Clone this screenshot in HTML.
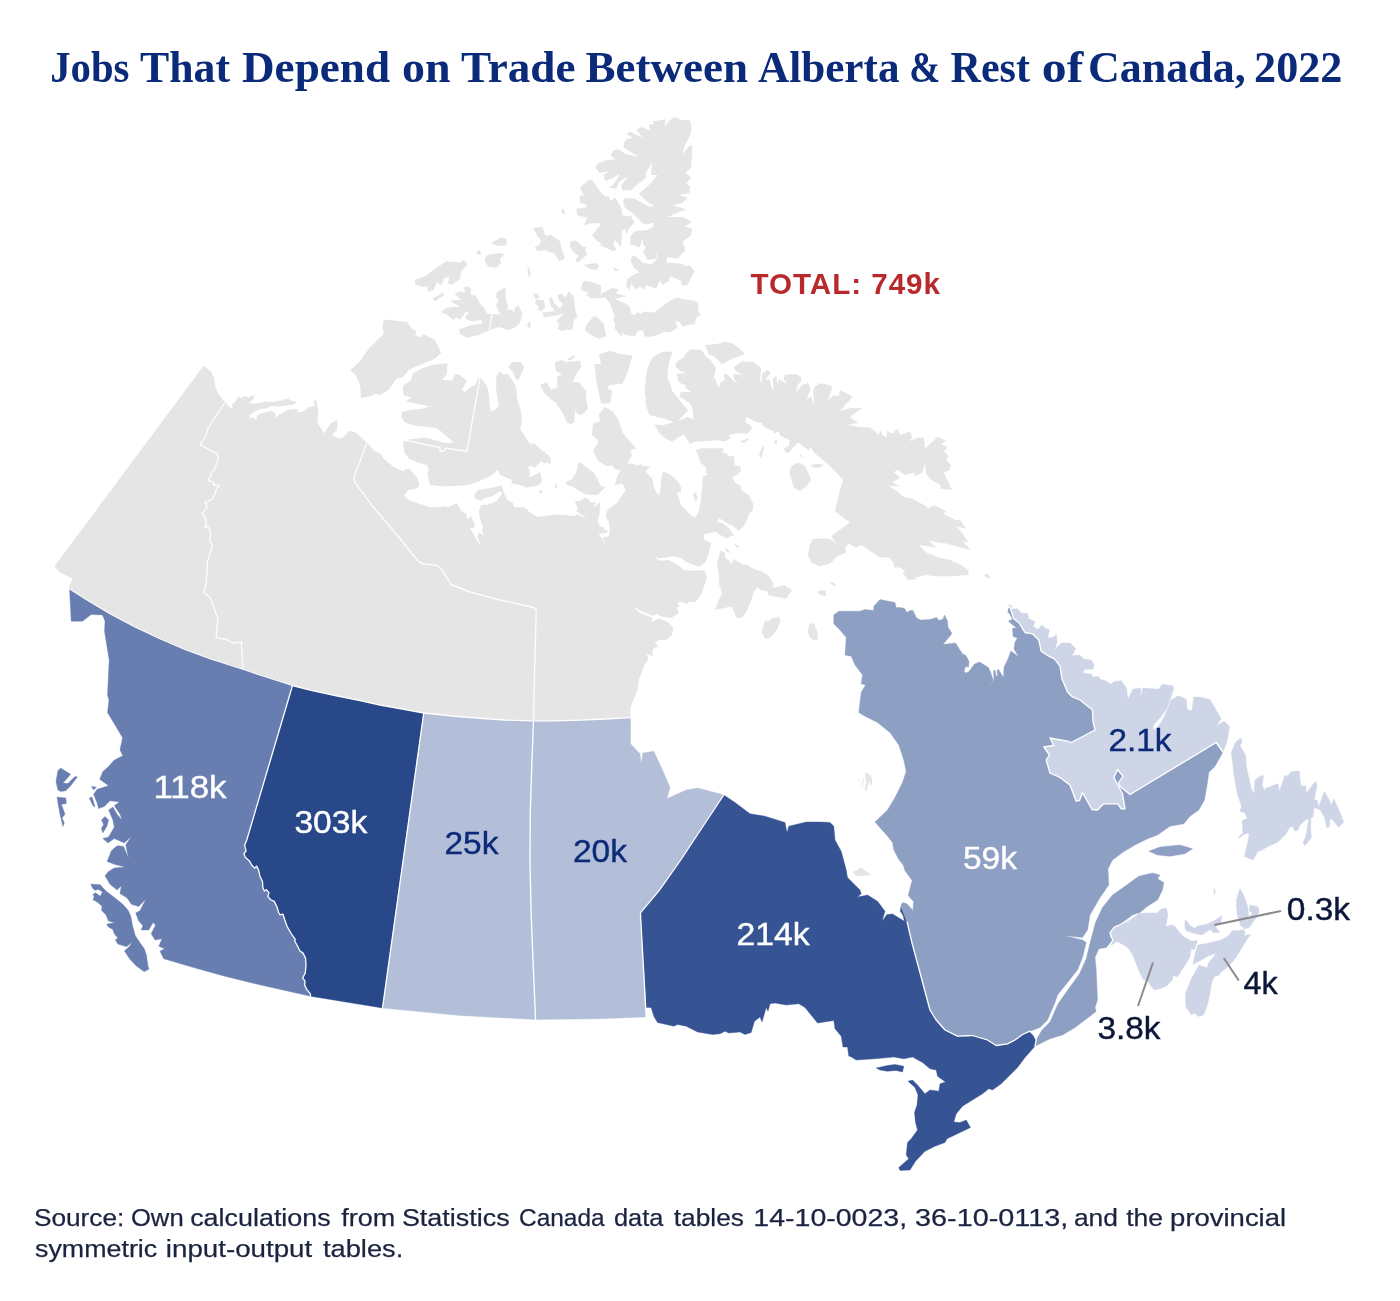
<!DOCTYPE html>
<html lang="en"><head><meta charset="utf-8"><title>Jobs That Depend on Trade Between Alberta &amp; Rest of Canada, 2022</title>
<style>
html,body{margin:0;padding:0;background:#fff;}
body{width:1400px;height:1301px;position:relative;overflow:hidden;font-family:"Liberation Sans",sans-serif;}
svg{position:absolute;left:0;top:0;}
.g polygon{fill:#e5e5e5;stroke:none;}
.p polygon{stroke-width:.4;stroke-linejoin:round;}
.b polyline{fill:none;stroke:#fff;stroke-width:1.3;stroke-linejoin:round;stroke-linecap:round;}
.l polyline{fill:none;stroke:#fff;stroke-width:1.4;stroke-opacity:.9;stroke-linejoin:round;}
.ld line{stroke:#8a8a8a;stroke-width:2;}
text{font-family:"Liberation Sans",sans-serif;}
.title text{font-family:"Liberation Serif",serif;font-weight:bold;fill:#0b2b7a;}
.lab text{font-size:31.2px;stroke-width:.4px;}
.src text{font-size:24.4px;fill:#1b2340;stroke:#1b2340;stroke-width:.25px;}
</style></head><body>
<svg width="1400" height="1301" viewBox="0 0 1400 1301">
<g class="g">
<polygon points="54.5,566.2 203.6,365.7 211.4,372.1 214.3,378.6 215,385.7 218.6,394.3 225,402.1 229.3,407.1 232.9,409.3 232.1,404.3 235,402.1 237.9,397.1 241.4,398.3 244.3,396 248.6,397.4 253.6,395 254,398.6 248.6,403.6 260,402.9 265,401.4 267.1,402.1 270,401.4 272.9,402.1 280,400.7 287.9,398.6 291.4,400.7 296.4,401.4 294.3,404.3 285.7,405.7 278.6,406.4 271.4,406 265.7,408.6 260,409.3 254.3,412.1 249.3,415 249.7,419.3 251.4,417.1 256.4,419.7 257.1,415.7 260,413.6 265.7,412.6 271.4,410.7 275.7,413.6 274.3,417.9 280,414.3 287.1,410 292.9,409.3 298.6,409.3 296.4,412.1 301.4,412.1 305.7,410 308.6,407.1 315,405.7 313.6,401.4 316,398.9 318.3,410 317.4,422.9 324.6,433.6 327.1,428.6 330.7,423.6 335.7,420.7 337.4,418.9 336.9,428.6 337.1,430 331.7,435 338.6,438.6 343.6,437.1 349.3,430.7 355,432.1 366.4,442.1 375,451.4 380,453.6 384.3,459.3 391.4,465 395.7,467.9 403.8,471.2 405.5,468.8 410,469.5 417,477.5 419.5,485 417.5,488 408.8,490 403.8,495.5 408.8,500 418.8,503.8 431.2,507.5 445,506.2 447.5,507.5 457,503 461.2,511.2 466.2,513.8 467.5,519.5 471.2,516.2 475,525 473.8,528 470,528 481.2,547.5 477.5,536.2 478.8,532.5 483.8,535 482,530 483,528 480.5,520 478.8,511.2 481.2,505 488.8,504.5 496.2,501.2 503,493 499.5,491.2 492.5,496.2 486.2,497.5 481.2,500.5 475.8,499.5 474.2,495 478,490 486.2,488.8 502,485.5 503.8,492.5 507,500 512.5,502.5 514.5,507 525,507.5 530,512.5 537.5,517 555,514.5 565,515 575,516.2 576.2,513.8 587.5,519.5 575,510 578,510 575,501.2 582.5,500 583.8,497.5 587.5,498 590.5,502.5 596.2,502.5 592.5,508 600,502.5 599.5,515 597.5,520.5 600,526.2 603.8,527.5 604.5,530 607.5,530.5 607.5,532.5 598.8,533.8 605.5,544.5 602.5,537.5 608.8,536.2 610,528.8 608.8,522 605.5,516.2 607.5,510 611.2,507 617.5,502.5 621.2,496.2 625.5,490.5 622.5,483.8 615,485 617,476.2 621.2,470 616.2,469.5 611.2,465 607.5,466.2 602.5,463.8 597.5,460 593,450 597.5,443.8 598,440 592,435 593,423.8 600,421.2 598.8,414.5 605,407 612.5,411.2 618.8,420 620,424.3 622.9,432.9 628.6,440 633.6,445.7 636.4,448.6 632.9,449.3 630.3,451.4 632.1,455.7 627.1,463.6 632.1,463.6 637.9,465.7 641.1,464.3 642.1,465.7 650,466.4 645.7,471.4 652.6,479.3 653.6,487.1 657.4,494.6 660,492.9 661.4,478.6 662.9,471.4 670,474.3 677.9,481.4 680.7,486.4 681.4,492.1 677.1,492.9 681.4,505.7 687.1,511.4 691.4,515.7 695.4,517.4 698.6,512.1 701.1,498.6 702.6,480 702.6,476.4 708.3,474.3 705.7,472.9 706.9,469.3 703.6,465 700.3,462.9 698.6,457.1 695.7,449.7 703.6,447.9 712.9,448.6 721.7,447.9 724,449.3 722.1,452.6 726.4,453.6 728.6,456 734.3,456.4 734.6,465 740.7,466.4 740.7,471.4 737.9,474.3 733.6,476 732.6,478.6 735.7,482.9 738.6,485 740,484.3 741.4,490 749.3,495.7 752.9,502.9 752.9,510 749.3,513.6 746.4,522.1 742.1,527.9 738.6,531.1 731.4,524.6 728.6,524.3 719.3,518.3 717.1,522.1 722.1,522.9 728.6,527.9 734.3,535.4 729.3,536.4 727.9,538.6 721.4,535.7 715.4,531.7 703.6,534.6 704.3,540 711.4,542.9 708.6,552.9 705.7,562.1 698.9,566.9 690,563.6 685.7,561.4 681.4,558.3 671.4,555.7 670.7,557.1 660,558.3 655,557.1 659.3,560.7 668.6,560 675.7,563.6 684.3,570 695.7,570.7 704.3,570 706.9,576.4 704.3,585.7 701.4,594.3 695.7,602.1 688.6,601.7 687.1,604 680.7,601.4 677.1,603.1 680,606 676.9,607.1 678.6,613.6 674.3,616 670.7,617.9 661.4,616.4 656.9,614 652.9,615.7 640,610.7 635,607.1 635.7,609.3 640,612.9 652.9,617.9 650.7,622.1 659.3,618.6 667.9,622.1 673.6,628.6 671.4,635.7 665.7,640 658.6,640 655,642.9 658.6,646.4 653.6,647.9 652.1,652.9 653.6,656.4 646.4,653.6 648.6,658.6 644.3,665.7 642.5,670 638.8,680 637.5,690 632.5,702.5 630.5,707.5 630.5,718.8 630.6,717.6 605,719 580,720.2 555,720.9 533.5,720.9 505,720 480,718.25 455,716.25 423.75,713 405,709.5 380,705 360,700.5 335,695.5 310,690 292.5,685.5 260,675 243.75,669.5 210,658.75 185,649.5 160,638.75 135,627 110,613.75 85,598.75 69.5,588.75 68.8,587.5 72.5,578.8 60,572.5"/>
<polygon points="383.8,319.5 407.5,322 411.2,328 416.2,331.2 415.5,335 419.5,337.5 423.8,334.5 435,340 441.2,352.5 435,358.8 422.5,363.8 408.8,370 402.5,377.5 396.2,378.8 388.8,390 380,395 375,393.8 371.2,396.2 361.2,398 360,385 355,373.8 350,370.5 360,361.2 365,353.8 370,347.5 376.2,341.2 383.8,333.8 382.5,326.2"/>
<polygon points="403.8,385 411.2,380 412.5,373.8 421.2,368.8 432.5,365 447.5,363 447,373.8 442.5,380 452,380.5 455,373.8 460,375 467,381.2 462,390 465,392 470,387.5 475,385 478.8,377 482.5,380 487,386.2 488.8,393.8 490.5,411.2 495,410 498.8,406.2 496.2,390 496.2,377.5 499.5,371.2 503.8,374.5 507.5,373.8 512.5,380 516.2,387.5 517.5,400 521.2,412.5 522,422.5 520,428.8 525,436.2 528.8,442.5 532.5,444.5 533.8,443 542.5,451.2 545,451.2 545.5,453.8 548.8,455 551.2,460 550,465 547.5,462 545,463.8 541.2,461.2 537.5,465 535,467.5 530.5,465.5 528,467.5 530,471.2 529.5,477.5 540,472 542,480 540.5,483.8 535,486.2 526.2,487.5 520,485 516.2,484.5 511.2,483 512,480 506.2,477.5 500,475 498,469.5 493.8,473.8 487.5,477.5 476.2,482.5 467.5,485 450,486.2 442.5,486.2 430,485 427.5,473.8 428.8,470 427,465 417.5,462.5 408.8,458.8 404.5,452.5 403.8,448.8 403,446.2 403.8,440 425,437.5 445,443 453.8,442.5 437,428 415,425.5 405.5,423 401.2,417.5 402,412 410,410 422.5,408.8 429.5,406.2 410,402.5 406.2,401.2 411.2,397 403.8,395.5 402.5,389.5"/>
<polygon points="508,367 512.5,362 521.2,362 524.2,367.5 518.8,379.5 516.2,379.5 512.5,371.2"/>
<polygon points="540,385 546.2,382 551.2,389.5 557.5,387.5 557,376.2 562,374.5 556.2,371.2 554.5,362.5 562,360 565.5,362 580,360.5 581.2,367.5 577.5,372 572.5,382 579.5,382.5 583.8,388.8 586.2,390 586.2,400 588,408.8 582.5,414.5 578,414.5 575,410 574.2,422.5 571.2,424.2 567,422.5 562.5,412.5 556.2,403 550,398.8 543.8,392.5"/>
<polygon points="567,359.5 573.8,355 575,357 570,360.5"/>
<polygon points="594.5,363.8 601.2,364.5 598.8,354.5 610,350.8 618.8,353.8 632.5,355.5 627.5,372.5 622.5,383.8 610,385 607,387.5 612.5,391.2 610,403.2 601.2,403.8 597.5,387.5 595.8,377.5"/>
<polygon points="565.5,482.5 572.5,478.8 576.2,472.5 578,463.8 581.2,462 583.8,465.5 593.8,472.5 601.2,486.2 605.5,487 597.5,495 586.2,494.5 577.5,490 572.5,486.2 567.5,485.5"/>
<polygon points="538.8,491.2 541.2,489.5 542.5,492 540,493.8"/>
<polygon points="555,485 557,484.5 557.5,488.8 555.5,488"/>
<polygon points="415.5,279.5 425,276.2 435,268.8 446.2,261.2 460,262.5 463.8,260 467.5,264.5 461.2,271.2 460,278.8 452.5,284.5 448,283.8 449.5,276.2 443.8,278.8 441.2,285.5 437,282 433.8,290 428,292 427,286.2 422.5,287 415,284.5"/>
<polygon points="432.5,298.8 443,292.5 443.8,295.5 435,301.2"/>
<polygon points="441.2,311.2 446.2,308 460,306.2 451.2,302 452.5,300 461.2,300 454.5,293.8 460,291.2 465,292.5 463.8,287.5 467.5,286.2 471.2,288.8 470.5,294.5 476.2,296.2 480,303.8 483.8,307.5 487,313.8 500,314.5 496.2,305 498.8,300 496.2,297.5 497,292 505.5,287 506.2,300 508,306.2 507,309.5 512.5,310 513.8,313.8 515,307.5 518.8,305.5 522.5,313.8 519.5,323.8 515,327.5 507.5,330 498.8,327 490,330 480,334.5 467.5,338 460,333.8 458.8,329.5 471.2,325 482.5,323.8 481.2,320 472.5,321.2 467.5,320 465,317.5 468.8,312.5 466.2,311.2 460,320 456.2,317 453.8,320 450,317.5 447.5,314.5 442,313"/>
<polygon points="485,257.5 488.8,254.5 500,253 504.5,254.5 500,258.8 501.2,263 496.2,267.5 488.8,267 485,262.5"/>
<polygon points="491.2,243 501.2,237.5 506.2,238.8 507,245 497.5,246.2"/>
<polygon points="476.2,251.2 480,250 481.2,254.5 477.5,255"/>
<polygon points="533,228 542.5,227 545,235 547.5,236.2 550,234.5 555,237.5 560,241.2 562,250 565,258.8 558.8,261.2 555,253.8 543.8,250 537.5,251.2 534.5,247.5 540,244.5 541.2,240 537.5,236.2 535.5,232.5"/>
<polygon points="570.5,241.2 576.2,240.5 582.5,246.2 586.2,247.5 585.5,251.2 587.5,254.5 578,262.5 575,260 578.8,256.2 573.8,252 570,247.5"/>
<polygon points="527.5,265 530.5,272.5 530,277.5 528,275"/>
<polygon points="583.8,265 596.2,263 599.2,266.2 596.2,270 590,268.8"/>
<polygon points="613,267 619.5,270 615,271.2"/>
<polygon points="548.8,298.8 552,297.5 553.8,302.5 560,308.8 563,303.8 558.8,300 557.5,295 561.2,293.8 565.5,297.5 568.8,291.2 573.8,296.2 575,307.5 576.2,313.8 577.5,317.5 573.8,320 572.5,329.5 565.5,330 562.5,331.2 557.5,328.8 559.5,323.8 556.2,321.2 562.5,315 565,313.8 543.8,317.5 542.5,312.5 555,311.2 551.2,306.2 550,302"/>
<polygon points="533,293 537.5,293.8 539.5,297.5 535,299.5 543.8,300 545.5,307.5 541.2,311.2 537.5,309.5 538.8,306.2 534.5,303.8 536.2,301.2"/>
<polygon points="528,322.5 530.5,321.2 530.5,328.8 527,326.2"/>
<polygon points="586.2,325 593.8,316.2 597.5,317.5 603.8,323.8 606.2,336.2 598.8,338.8 588.8,333.8 585,330"/>
<polygon points="601.2,293.8 612.5,288 618.8,289.5 615.5,293 626.2,296.2 615,298.8 626.2,303.8 630,307.5 631.2,313.8 635,315 637,312 640,313.8 646.2,311.2 648.8,312.5 655,312 663.8,305 671.2,300 677.5,297.5 683.8,299.5 691.2,300 698,302.5 698.8,312.5 701.2,314.5 696.2,317.5 695,323.8 682.5,326.2 679.5,322 675,321.2 677.5,327.5 670,332.5 663.8,332 657.5,335 650,337 644.5,336.2 643,330 637.5,331.2 635,336.2 625,335 623,332.5 621.2,336.2 615,328.8 615,323.8 613,320 614.5,315.5 610,303.8 606.2,298.8"/>
<polygon points="580,188 587.5,180.5 592,180 600,191.2 605,196.2 608.8,196.2 610.5,201.2 615,197.5 621.2,207.5 622.5,215 626.2,216.2 630.5,215.5 634.5,222 628,230 627,235 624.5,228.8 622,231.2 621.2,247.5 615,240 613,243.8 617,250 612,251.2 610,249.5 601.2,246.2 600,242.5 596.2,240.5 592,235 597.5,228.8 601.2,223.8 594.5,223 583.8,225 587.5,217.5 577.5,215.5 576.2,208.8 585.5,207.5 587,205 579.5,202.5 580,195 583.8,196.2"/>
<polygon points="561.2,210 563.8,208.8 565.5,214.5 562.5,213.8"/>
<polygon points="648.8,125 653.8,123.8 652.5,121.2 665.5,119.5 664.5,126.2 669.5,120.5 675,117 682,120 689.5,120 691.2,123.8 691.2,132.5 688.8,138 684.5,146.2 682.5,154.5 688.8,146.2 692.5,145 691.2,167.5 685.5,172.5 691.2,177.5 686.2,183.8 690,186.2 689.5,193 678.8,195 687.5,197.5 682.5,203 672.5,205 686.2,209.5 677.5,212.5 668,217 682.5,217 692,222 685,226.2 692,228.8 691.2,235 682.5,242 685.5,250 677.5,258.8 667.5,257 666.2,262.5 682.5,263.8 685,266.2 690,265.5 694.5,271.2 690,280 687.5,285 682.5,285.5 680.5,280.5 670,276.2 668.8,281.2 662.5,285 660,280.5 656.2,288.8 646.2,285 643.8,290 640,286.2 636.2,290 631.2,283 630,290 626.2,286.2 627.5,278.8 635,273.8 639.5,272.5 633.8,267.5 630.5,261.2 632,256.2 635.5,256.2 642.5,262.5 651.2,264.5 656.2,260 658,247.5 655.5,258.8 647.5,260 643,252 646.2,247.5 643,244.5 642.5,237.5 640,247.5 630,244.5 630.5,236.2 635,231.2 647,230 652.5,227.5 653.8,222.5 646.2,224.5 642,222.5 632.5,213 625,208 623,201.2 625,198 635,198.8 641.2,202.5 648.8,206.2 655.5,206.2 648.8,203 643.8,198.8 638.8,193.8 646.2,187.5 651.2,182.5 657.5,175 651.2,175 652,162.5 646.2,172.5 646.2,177.5 635,186.2 632,190 622.5,190.5 621.2,185 628.8,176.2 620,181.2 616.2,188.8 608.8,187.5 613.8,184.5 620,173.8 611.2,178.8 605,181.2 603.8,174.5 610,171.2 600,173 595,167.5 598.8,163 607.5,160 615.5,159.5 610.5,155.5 613.8,150 618.8,149.5 625,153.8 638.8,157 623.8,147.5 623.8,142.5 627.5,138.8 632.5,138 626.2,133.8 630,132 642.5,137.5 636.2,129.5 642.5,127 650,130.5"/>
<polygon points="662.9,351.7 672.6,351.7 669.3,361.4 667.4,371.4 667.9,379.3 670.7,385 672.1,390.7 677.1,397.1 682.9,404.3 688.3,410.3 682.9,415.7 677.9,421.4 687.1,416.9 693.6,419.3 692.1,406.4 689.3,402.9 685,400 679.3,396.4 680.7,392.1 691.4,392.1 686,388.3 685.4,385 682.1,384 678.3,381.7 676.4,373.6 686,373.6 678.6,370 675.7,366.9 675.4,364.3 677.9,360.7 682.1,358.3 685,357.1 684,355.7 690,349.3 701.7,350 705.7,356.4 710,359.3 716,368.3 712.9,380.7 715.4,377.1 716,382.1 717.4,383.6 718.6,388.6 720.7,382.1 725,380 723.6,374.3 726.4,374 738.3,385 734.3,379.3 733.1,374.6 738.6,374 743.6,375 736.4,371.4 733.6,367.4 742.1,361.1 748.6,362.1 752.9,361.4 761.1,368.6 760,381.4 761.4,382.1 762.1,373.6 767.9,369.7 770.7,372.9 765.4,379.7 769.3,379.3 772.6,390.7 773.6,390.7 772.9,378.6 776.4,375.7 777.1,384.3 778.9,379.3 786.9,384 783.6,378.6 784.3,375.4 790.7,374 797.1,374.6 801.4,377.4 801.1,382.1 798.6,383.6 795.7,392.9 802.1,385 806.4,384 807.4,382.1 810.7,389.3 806.4,399.7 810.7,396 814.3,405 813.1,390 815.7,385.7 820,383.6 823.8,383.8 832.5,386.2 829.5,396.2 827,401.2 833.8,395 838.8,396.2 840,390 847.5,393.8 852.5,396.2 850,400 846.2,403.8 840,411.2 850,408 862.5,408 852.5,415 850,417.5 858,422.5 847.5,425 860,427 870,427.5 875,431.2 878.8,435 880.5,430 882.5,435 886.2,437.5 887.5,431.2 892.5,433.8 897.5,428.8 900,435 910,431.2 912.5,437.5 908.8,441.2 917.5,438 923.8,437.5 925,448.8 928.8,445 937.5,437 946.2,440.5 941.2,443.8 947.5,447.5 943.8,451.2 948.8,456.2 946.2,460 950.8,465 949.5,470 943.8,472.5 947.5,480 952,490 941.2,488.8 940,484.5 931.2,480 926.2,473.8 925,463.8 922.5,472.5 915,476.2 913.8,472.5 905,475 897.5,469.5 893.8,472.5 900,477.5 892.5,482.5 900,486.2 888.8,486.2 897.5,491.2 902.5,496.2 912.5,498.8 926.2,506.2 928,508.8 933.8,505 941.2,508.8 946.2,511.2 943.8,513.8 955,520 960,520 966.2,528.8 956.2,526.2 962.5,533.8 968.8,542.5 962.5,541.2 971.2,550 960,547.5 947.5,543.8 937.5,542.5 928.8,540.5 936.2,547.5 918.8,545 926.2,552.5 937.5,557 950,560 961.2,565 968,570 968.8,575 950,576.2 937.5,576.2 925,575 916.2,577.5 915,580 907.5,577.5 902.5,573.8 905,571.2 900,567.5 893.8,567.5 893.8,562.5 888.8,557.5 880,557.5 872.5,552.5 865,547.5 861.2,545 856.2,547.5 848.8,543.8 845,547.5 846.2,552.5 837.5,556.2 830,563.8 820,566.2 811.2,562.5 808,555 810,545 812.5,539.2 822.5,538.2 830,538.8 837,545 831.2,536.2 837.5,531.2 850,522.5 841.2,516.2 835,511.2 837,502.5 840,490 843,480 835,471.2 827.5,463.8 820,457.5 815.7,454.3 810,447.1 808.6,450.7 799.3,442.9 797.1,442.9 793.6,447.1 788.6,453.1 785.7,452.6 784,447.9 788.6,446 789.7,440 780,435.7 778.9,431.1 774.3,433.6 772.9,430.7 768.6,429.3 764.3,427.1 761.4,422.9 754.3,421.4 746.4,416.4 745.4,422.1 750,425 752.1,427.9 747.1,434 738.6,433.1 727.9,435 731.1,437.4 725,441.4 717.1,440.3 694.3,442.1 690,444 683.6,434.3 680,436.9 677.1,437.4 676.4,439.3 671.4,441.4 664.3,437.9 658.6,432.1 654.3,424.6 663.6,425 674.3,422.1 661.4,417.9 649.7,415 645.7,405 645.4,400 646.4,397.1 645,395.7 645,386.4 646,375.7 647.9,367.4 652.1,357.9 657.4,354.3"/>
<polygon points="705,345 717.1,344 725,341.7 732.9,343.6 738.6,347.9 745,354 734.3,357.9 727.1,361.4 722.1,364.6 714.3,356.4 708.9,354.6"/>
<polygon points="791.2,466.2 797.5,462.5 805,465.5 808.8,473.8 811.2,480 806.2,486.2 800,491.2 793.8,487.5 789.5,472.5"/>
<polygon points="810.5,465 817.5,463.8 823.8,465 820,467.5 812.5,467.5"/>
<polygon points="759.3,454.3 762.9,445.7 764.3,446.4 762.1,455.7 760.3,457.9"/>
<polygon points="740,441.7 747.9,438.3 749.3,439.3 744.3,442.9"/>
<polygon points="774,440.7 777.1,440.3 776.9,444.3 774.6,443.1"/>
<polygon points="799.3,453.6 803.6,456.4 801.4,457.1"/>
<polygon points="693.1,493.6 695,492.1 697.9,497.9 695.7,502.1 693.6,497.1"/>
<polygon points="715,609.7 717.9,602.1 722.1,593.6 719.3,585 718.6,572.9 717.1,564.3 720.3,550.7 724.3,552.1 725.4,557.9 729.3,560.7 730.7,564.3 733.6,559.3 742.1,564.3 746.4,564.6 752.9,568.6 761.4,571.4 767.9,575 773.6,582.9 772.6,587.9 784.3,585 792.1,590 786.4,598.6 777.1,596.9 769.3,595.4 766.4,591.1 760,589.7 757.9,587.4 754.3,590.7 750.7,601.4 746.4,611.4 742.9,617.1 737.1,618.6 731.4,606.4 724.3,607.9"/>
<polygon points="725,546.9 729.3,550.7 728.9,553.6 725.7,550"/>
<polygon points="733.6,542.9 739.3,546.4 737.9,548.3 735,546"/>
<polygon points="761.7,632.1 764.6,621.4 769.3,620.7 772.1,618.3 778.6,616.4 780.7,620.7 777.9,627.9 774.3,633.6 770.7,637.1 765.7,639.3"/>
<polygon points="807.9,631.4 809.3,624.3 814,622.9 816,628.6 817.9,634.3 817.4,640.7 813.6,640.3 809.3,636.4"/>
<polygon points="817.1,592.1 821.4,590 825.7,590.7 826.4,596.4 820.7,595"/>
<polygon points="829.3,583.1 832.1,582.1 835.7,584 835,586.4"/>
<polygon points="905,577.5 911.2,576.2 915,579.5 908.8,580"/>
<polygon points="983.8,575 987.5,573.8 991.2,578.8 987.5,578"/>
<polygon points="852.5,872.5 861.2,867.5 871.2,875 857.5,876.2"/>
<polygon points="865.2,771.9 870.2,775.1 872.1,778.5 871.9,785.4 870.2,784.1 869.3,780.7 867.6,787.6 865.4,791.5 865,789.3 866.3,781.6 865.2,778.1"/>
<polygon points="580.7,287.9 582.9,282.1 585,280.7 595,283.1 601.1,285.4 600.7,295 605.7,291.4 612.9,288.3 618.6,290 611.4,293.6 602.9,297.9 597.1,298.3 590.7,298.6 586.4,295 588.6,292.9 581.4,290"/>
<polygon points="863.5,777.5 864.1,778.5 862.2,788 861.4,787.5"/>
<polygon points="858,780.5 860.5,778 859,781.5"/>
</g>
<g class="l">
<polyline points="225,402.6 215.7,416.4 207.9,428.6 207.1,432.9 204.3,438.6 200,444.6 217.9,454.3 218.3,458.6 215,468.6 210.7,473.6 211.4,475 207.9,480 214.3,482.6 213.6,485.4 216.9,484.3 219.7,486 216.9,487.9 214.3,495.7 212.1,499.3 205,502.6 206.4,504.3 206.9,508.6 201.7,513.6 205,517.1 206.4,525.7 204.3,526.9 208.6,527.1 210.7,533.6 209.7,540 212.6,545.7 207.5,561.2 206.2,583.8 203.8,592.5 210,597.5 218,618.8 216.2,637.5 226.2,639.5 233.8,643 241.2,642 243,668.8"/>
<polyline points="367,443 353.8,477.5 355,482.5 372.5,506.2 395,532.5 417.5,560.5 422.5,563.8 437.5,565.5 441.2,568.8 451.2,584.5 470,592 500,600 533.8,607.5 536.2,610 534.5,675 533.5,720.9"/>
<polyline points="480,377.5 467,451.2 446.2,448.2 443,451.2 440,451.2 440,447.5 403.8,440"/>
<polyline points="492,314.5 489.5,329.5"/>
</g>
<g class="p">
<polygon fill="#697eb0" stroke="#697eb0" points="69.5,588.75 71.2,621.2 82.5,621.2 91.2,614.5 102.5,615 105,621.2 104.5,631.2 109.2,660 107.5,695 109,700 107.5,712.5 122.5,737.5 122.1,740 120,750 122.9,755.7 114.3,760 108.6,766.4 102.9,771.4 99.7,779.3 108.6,785.7 97.1,789.3 93.6,794.3 97.1,802.9 98.6,808.6 104.3,806.4 110,800.7 119.3,802.1 114.3,805.7 120,814.3 122.1,820 117.1,814.3 112.9,807.1 108.6,810 112.9,820 114.3,827.1 108.6,837.1 102.9,838.6 107.9,842.9 114.3,838.6 124.3,842.9 131.4,836.4 125.7,845 128.6,858.6 123.6,846.4 117.1,845.7 111.4,850.7 107.1,861.4 114.3,864.3 125,867.1 114.3,867.9 108.6,871.4 105,875.7 110,884.3 117.1,890 121.4,885.7 120,893.6 127.1,897.9 131.4,904.3 138.6,906.4 145.7,899.3 140,910.7 135.7,912.9 138.6,920.7 142.9,925.7 141.2,930 148.8,930 153,922.5 155.5,925 151.2,933.8 155,940 162,938.8 158.8,946.2 164.5,948.8 160,951.2 163.8,958.8 197,968.6 225.7,976.4 254.3,983.6 282.9,990 310.6,996.2 310.2,993.6 306.9,989.7 304.7,985.1 305,981.2 302.6,977.9 305.2,973.3 306,965.5 305.6,958.3 303,953.1 299.7,950.8 298.4,947.8 294.8,941.3 295.2,939.3 291.2,933.5 287.3,926.9 284.7,919.7 283,914.2 280.1,914.8 278.6,912.5 276.9,906.7 274.2,901.4 270.3,899.5 267.7,896.2 269,892.9 266.4,889.7 264.4,891 262.9,887.7 262.5,881.8 259.9,875.9 258.6,870.1 256.6,866.1 254.6,868.1 252,865.5 249.4,860.9 245.5,857.6 243.8,853.7 246.1,851.1 244.6,845.2 246.8,840 247.5,837.5 292.5,685.5 260,675 243.75,669.5 210,658.75 185,649.5 160,638.75 135,627 110,613.75 85,598.75"/>
<polygon fill="#697eb0" stroke="#697eb0" points="56,781.4 57.9,770.7 60.7,767.9 65,770.7 70.7,774.3 66.4,779.3 62.9,782.9 67.9,783.6 75,776.4 77.4,776.9 70.7,785.7 65.7,790.7 60.7,791.4 57.9,790"/>
<polygon fill="#697eb0" stroke="#697eb0" points="90.8,884 100.3,884.7 105.9,891.1 114.5,897.6 123.1,904.5 128.3,910.5 130.9,916.6 132.6,926 135.2,935.5 140.3,943.3 144.2,948.4 146.4,954.9 148.1,966.6 149,969.1 144.2,971.7 136,965.7 129.6,958.8 124.4,951 129.6,946.3 132.2,942 126.6,946.7 117.9,944.1 115.3,939.8 117.9,938.1 114.5,934.2 112.8,929.5 108.4,926.9 106.7,924.3 114.5,922.6 108.4,920.9 105.9,914.8 101.6,910.5 102,906.2 97.2,901.9 92.9,899.7 94.2,896.7 92.9,894.6 95.5,892.8 100.3,896.3 102.4,892 98.5,889.4 94.7,890.3 92.5,888.1"/>
<polygon fill="#28488a" stroke="#28488a" points="292.5,685.5 310,690 335,695.5 360,700.5 380,705 405,709.5 423.75,713 382.5,1008 310.6,996.2 310.2,993.6 306.9,989.7 304.7,985.1 305,981.2 302.6,977.9 305.2,973.3 306,965.5 305.6,958.3 303,953.1 299.7,950.8 298.4,947.8 294.8,941.3 295.2,939.3 291.2,933.5 287.3,926.9 284.7,919.7 283,914.2 280.1,914.8 278.6,912.5 276.9,906.7 274.2,901.4 270.3,899.5 267.7,896.2 269,892.9 266.4,889.7 264.4,891 262.9,887.7 262.5,881.8 259.9,875.9 258.6,870.1 256.6,866.1 254.6,868.1 252,865.5 249.4,860.9 245.5,857.6 243.8,853.7 246.1,851.1 244.6,845.2 246.8,840 247.5,837.5"/>
<polygon fill="#b3bfd9" stroke="#b3bfd9" points="423.75,713 455,716.25 480,718.25 505,720 533.5,720.9 531.8,765 530.2,815 530,865 531.2,915 533.2,965 535.6,1019.5 460,1015.5 382.5,1008"/>
<polygon fill="#b3bfd9" stroke="#b3bfd9" points="533.5,720.9 555,720.9 580,720.2 605,719 630.6,717.6 630.5,743.8 640,753.8 641.2,764.5 643,753 653.8,751.2 662.5,770 670,787.5 667,798.8 675,795 686.2,790 697.5,788 710,791.2 723.8,795 680.7,860 659.3,890.4 640.4,912.9 646.2,1017 600,1018.75 535.6,1019.5 533.2,965 531.2,915 530,865 530.2,815 531.8,765"/>
<polygon fill="#365394" stroke="#365394" points="723.8,795 735,802.5 750,813.8 765,816.2 785,822.5 787,832.5 788.8,826.2 806.2,822 821.2,822 830,822.5 833.8,826.2 835,840 841.2,851.2 846.2,870 847.5,877.5 860,890 861.2,893.8 857.5,897 867.5,895 877.5,901.2 885,911.2 882,921.2 887,914.6 892.5,914 900,918.6 904.5,921.2 902.9,915 900.4,911.4 900.9,906.4 907.1,921.8 912,942.9 930,1010 936.2,1020 945,1030 957.5,1036.2 972.5,1035.5 987.5,1040 996.2,1045.5 1007.5,1043.8 1015,1040 1022.5,1034.5 1030,1031.2 1033.8,1035 1036.2,1040 1035,1046.2 1025,1057.5 1017.5,1067.5 1010,1075 1001.2,1083.8 992.5,1090 988.8,1088.8 982.5,1093.8 972.5,1100 962.5,1106.2 956.2,1113.8 953.8,1122 960,1122.5 966.2,1120 970.5,1127.5 957.5,1133.8 947,1138.8 945,1142.5 935,1146.2 925,1151.2 915.5,1161.2 910,1170 900,1170.5 898.8,1167.5 908.8,1158.8 906.2,1155 907.5,1142.5 911.2,1138.8 917.5,1130 915.5,1122.5 914.5,1112.5 917,1105 918,1095 915,1087.5 908,1081.2 912.5,1080 917.5,1085 925,1093.8 930,1090 938.8,1091.2 940,1083.8 945.5,1082 937.5,1076.2 936.2,1070 930,1068.8 922.5,1062.5 912.5,1057 903.8,1058.8 893.8,1057 875,1058.8 856.2,1060 850,1056.2 848.8,1056.2 847.5,1047 843,1047 841.2,1036.2 835,1028.8 833.8,1020.5 817.5,1023 805,1007.5 798.8,1003.8 786.2,1005 775,1003 770,1003.8 768,1011.2 766.2,1007.5 762,1022 760,1017 754.5,1021.2 751.2,1032.5 745,1034.5 740,1032 728.8,1033 725,1031.2 720,1033.8 712.5,1034.5 697.5,1032 686.2,1026.2 677.5,1024.5 673.8,1026.2 657.5,1022.5 653.8,1016.2 651.2,1007.5 646.2,1007.5 640.4,912.9 659.3,890.4 680.7,860"/>
<polygon fill="#365394" stroke="#365394" points="876.2,1068 887.5,1065.5 895,1064.5 903.8,1066.2 902.5,1072 896.2,1070.5 887.5,1071.2 880,1070"/>
<polygon fill="#8e9fc4" stroke="#8e9fc4" points="907.1,921.8 902.9,910.7 901,904.3 903.2,902.5 907.1,903.9 912.9,910.4 913.6,901.4 908.2,895.4 912.1,880.4 905,870.7 903.2,865 898.6,859.3 893.9,850 892.5,842.5 887.5,836.2 875,822 887.5,810 895,797.5 902.5,782.5 906.2,771.2 903.8,760 898.8,745 890,732.5 877.5,722.5 865,716.2 858.8,712.5 861.2,692.5 865.5,685 861.2,683.8 862.5,675 855,665 851.2,656.2 845,655 846.2,637.5 840,630 833.8,623.8 833.8,615 838.8,611.2 860,611.2 865,609.5 873.8,610.5 873.8,606.2 880,599.5 895,602.5 896.2,607.5 900,607.5 904.5,608.5 907,612.5 910,610.5 913,610.5 916.5,618 920.5,620 930,619.5 936.5,617.5 939,620.5 943,619 944.5,615 947.5,621 948,627 952,633.5 943,644.5 955.5,643 962.5,654 966,655.5 969,661.5 968.5,667 965.5,666.5 964,671.5 966,673 969,671.5 974.5,664 979.5,662 988.5,667.5 990.5,672 992.5,678 993.5,680.5 987,687.5 994,680.5 993.5,671 995,670 996,676 997.5,676 997,670 998.5,669.5 1003.5,677.5 1004,667 1007.5,660 1011,651 1018.5,656.5 1014,649 1015,642 1017.5,638 1013,636.5 1012.5,628.5 1016.5,627.5 1012,624.5 1008.5,621 1012.6,619.2 1009.4,613.6 1007.8,612 1008.5,608.5 1010,607 1013.8,618.8 1018.8,622.5 1025,632.5 1032.5,633.8 1038.8,640 1041.2,651.2 1048.8,656.2 1054.5,658.8 1060,666.2 1062,678.8 1067.5,692 1072.5,697 1080,700 1088.8,707 1092.5,710 1093,721.2 1095,730 1071.2,742.5 1067.5,741.2 1050,738 1053.8,745.5 1043.8,747 1049.5,755 1046.2,760 1050,773 1060,777.5 1070,785 1076.2,801.2 1079.5,800.5 1082.5,792.5 1092,809.5 1097.5,810 1103.8,803.8 1118,803.8 1121.2,808.8 1125,808.8 1122.5,793.8 1113.8,777.5 1117.5,769.5 1123,776.2 1118.8,782.5 1120,786.2 1130,794.5 1216.2,742.5 1223,752 1215,766.2 1208.8,772.5 1207.5,782.5 1204.5,800 1198.8,810 1190,816.2 1183.8,823.8 1170,826.2 1157.5,835 1147.5,838.8 1135,845 1122.5,852.5 1112.5,860 1108,868.8 1108.8,885 1100,897.5 1095,906.2 1090,915 1087.5,930 1082.5,937.5 1063.8,935.5 1082.5,940 1086.2,942.5 1082.5,957.5 1077.5,970 1067.5,982.5 1057.5,995 1055,1002.5 1047.5,1020 1040,1027.5 1030,1031.2 1022.5,1034.5 1015,1040 1007.5,1043.8 996.2,1045.5 987.5,1040 972.5,1035.5 957.5,1036.2 945,1030 936.2,1020 930,1010 912,942.9 907.1,921.8"/>
<polygon fill="#8e9fc4" stroke="#8e9fc4" points="1035,1046.2 1036.2,1040 1042,1030 1050,1022 1058,1003.8 1070.5,986.2 1079.5,973.8 1086.2,958.8 1090.5,941.2 1095.5,922.5 1102.5,907.5 1112.5,895 1125,886.2 1130,882.5 1138.8,876.2 1152.5,873 1160,875 1157.5,878.8 1163.8,882.5 1162.5,890 1157.5,900 1147.5,906.2 1140,912.5 1132.5,915 1122.5,922.5 1112.5,931.2 1110,936.2 1112.5,940 1106.2,947.5 1098.8,948.8 1095,957.5 1096.2,970 1097.5,1000 1095,1007.5 1096.2,1011.2 1090,1016.2 1075,1027.5 1062.5,1035 1050,1038.8"/>
<polygon fill="#8e9fc4" stroke="#8e9fc4" points="1148.8,851.2 1160,847 1180,845 1192.5,848.8 1185,853.8 1170,856.2 1157.5,855"/>
<polygon fill="#ced5e7" stroke="#ced5e7" points="1008.9,604.7 1011.7,605.7 1011.4,609.3 1017.1,608.6 1021.4,612.9 1027.9,613.6 1028.6,618.6 1035,621.4 1033.1,627.1 1038.6,629.3 1041.4,625 1045.7,628.6 1049.3,629.3 1047.9,637.9 1053.6,637.1 1056.4,634.3 1057.1,642.1 1055,649.3 1061.4,642.9 1070,642.9 1075.7,648.6 1072.1,655.7 1079.3,655 1084.3,659.3 1091.4,660 1094.3,665 1092.9,669.3 1084.3,669.3 1082.9,672.9 1091.4,674.3 1092.9,677.1 1098.6,676.4 1100,679.3 1105.7,680.7 1110.7,684.3 1114.3,681.4 1121.4,680.7 1126.4,687.9 1127.9,699.3 1132.9,689.3 1140.7,687.9 1140.7,698.6 1142.9,687.9 1158.6,689.3 1162.1,684.3 1172.9,685.7 1173.6,689.3 1170,699.3 1167.1,707.9 1160,717.9 1153.6,725 1152.9,730 1157.1,727.9 1162.9,719.3 1169.3,705 1170.7,700 1178.6,695.7 1186.4,699.3 1187.1,709.3 1192.1,710.7 1193.6,697.1 1200,697.1 1210,699.5 1221.2,718.8 1216.2,726.2 1223.8,721.2 1229.5,726.2 1227.5,740 1223,752 1216.2,742.5 1130,794.5 1120,786.2 1118.8,782.5 1123,776.2 1117.5,769.5 1113.8,777.5 1122.5,793.8 1125,808.8 1121.2,808.8 1118,803.8 1103.8,803.8 1097.5,810 1092,809.5 1082.5,792.5 1079.5,800.5 1076.2,801.2 1070,785 1060,777.5 1050,773 1046.2,760 1049.5,755 1043.8,747 1053.8,745.5 1050,738 1067.5,741.2 1071.2,742.5 1095,730 1093,721.2 1092.5,710 1088.8,707 1080,700 1072.5,697 1067.5,692 1062,678.8 1060,666.2 1054.5,658.8 1048.8,656.2 1041.2,651.2 1038.8,640 1032.5,633.8 1025,632.5 1018.8,622.5 1013.8,618.8"/>
<polygon fill="#ced5e7" stroke="#ced5e7" points="1231.4,752.1 1235.7,742.1 1240.7,737.9 1242.1,741.4 1240,745.7 1242.9,750.7 1245.7,755.7 1246.4,767.1 1249.3,780 1251.4,788.6 1254,794.3 1255,780 1260,776.4 1263.6,775.4 1262.1,785.7 1265,790.7 1265.7,788.3 1274.3,785 1277.9,783.6 1279.3,791.4 1285,775 1287.1,776.4 1291.4,771.4 1299.3,771.1 1300,780 1301.4,786.4 1305.7,785.7 1306.4,792.9 1313.6,783.6 1316.4,781.4 1316.9,785.7 1314.3,800 1317.1,800 1318.6,807.1 1324.3,791.4 1329.3,800 1331.4,805.7 1333.6,798.6 1336.4,804.3 1340.7,814.3 1343.6,822.1 1338.6,827.4 1332.9,820 1330,818.6 1329.3,827.1 1327.1,827.9 1324.3,817.1 1320,810 1314.3,807.4 1312.9,817.1 1310.7,818.6 1310.7,830 1311.4,837.9 1305,845.4 1303.1,842.9 1306.4,834.3 1308.9,818.6 1305.7,820 1300,825 1297.9,830 1295,831.1 1292.1,826 1289.3,827.9 1285.7,834.3 1277.9,842.1 1267.1,847.1 1260.7,850.7 1258.6,850.7 1252.9,860 1244.3,856.4 1247.9,841.4 1249.3,832.9 1244.3,834.3 1238.6,838.3 1239.7,835.7 1242.9,833.6 1242.1,820.7 1247.1,818.6 1245,812.9 1240,811.4 1241.4,805.7 1237.4,794.3 1234.3,777.1 1233.1,767.1 1232.1,760"/>
<polygon fill="#ced5e7" stroke="#ced5e7" points="1108.6,947.1 1112.9,940 1110,932.9 1114.3,927.1 1119.3,925 1128.6,920 1138.6,913.6 1147.1,912.9 1157.1,913.1 1160.7,909.3 1166.4,907.9 1167.9,915 1165.7,926.4 1171.4,925 1174.3,925.7 1180,932.9 1184.3,937.1 1191.4,941.1 1197.9,940.7 1195,950 1191.4,948.6 1190,957.1 1185.7,964.3 1180,972.9 1177.1,977.1 1173.6,975.4 1172.1,980 1167.1,985.7 1160.7,988.6 1154.3,990 1150.7,985.7 1147.9,981.4 1142.9,979.3 1138.6,970 1133.6,957.1 1129.3,949.3 1125,945.7 1117.1,941.4"/>
<polygon fill="#ced5e7" stroke="#ced5e7" points="1192.9,964.3 1195,954.3 1197.1,945 1206.4,943.6 1214.3,941.4 1221.4,940 1229.3,935 1232.1,930.7 1237.1,930.7 1242.9,929.7 1245,931.4 1244.6,935.7 1250.7,934.3 1245.7,941.4 1241.4,948.6 1237.1,955.7 1232.9,961.4 1225.7,968.6 1220,972.9 1218.6,975.7 1214.3,976.4 1212.1,981.4 1210.7,988.6 1209.3,997.1 1207.1,1005.7 1203.6,1015 1198.6,1016.4 1194.3,1012.9 1191.4,1015 1185.7,1006.4 1185.4,992.9 1188.6,985.7 1191.4,978.6 1197.1,968.6 1199.3,965 1207.1,967.9 1208.6,962.9 1214.3,955.7 1216.4,952.9 1208.6,955.7 1200,960.7"/>
<polygon fill="#ced5e7" stroke="#ced5e7" points="1236.4,900 1240,888.6 1244,895.7 1247.7,907.1 1248.6,915 1246.3,922.9 1243.1,927.7 1240.6,925.4 1237.1,914.3 1236.4,905.7"/>
<polygon fill="#ced5e7" stroke="#ced5e7" points="1184.9,919.4 1188,922.6 1190,925.4 1194.3,928.3 1198.6,925.7 1205.7,924.6 1212.9,921.4 1221.7,915.7 1220.6,923.4 1215.7,926.3 1217.1,929.3 1220,932.3 1212.9,932.6 1211.1,929.4 1206.9,931.4 1202,934.9 1194.3,933.4 1186.9,931.1 1185.1,928.6"/>
<polygon fill="#ced5e7" stroke="#ced5e7" points="1249.7,905.1 1258.3,906.9 1259.1,912.1 1256.3,917.4 1252,923.4 1248.9,927.7 1243.3,928.9 1246,922.9 1249.6,917.1 1252.4,912.9 1249.4,910.7"/>
<polygon fill="#ced5e7" stroke="#ced5e7" points="1213.9,888.6 1214.7,889.3 1215,894.3 1214,893.6"/>
<polygon fill="#697eb0" stroke="#697eb0" points="57.1,797.1 65.7,797.9 66.4,803.6 61.4,804.3 65,814.3 62.1,817.9 64.3,822.9 62.9,826.4 60,814.3 57.9,802.9"/>
<polygon fill="#697eb0" stroke="#697eb0" points="91.4,786.4 96.4,787.1 93.6,790"/>
<polygon fill="#697eb0" stroke="#697eb0" points="89.3,797.9 92.1,797.1 95,807.1 92.9,805.7"/>
<polygon fill="#697eb0" stroke="#697eb0" points="101.4,820 105,816.4 108.6,820 107.1,825.7 102.9,832.9 101.4,828.6 103.6,824.3"/>
</g>
<g class="b">
<polyline points="69.5,588.75 85,598.75 110,613.75 135,627 160,638.75 185,649.5 210,658.75 243.75,669.5 260,675 292.5,685.5 310,690 335,695.5 360,700.5 380,705 405,709.5 423.75,713 455,716.25 480,718.25 505,720 533.5,720.9 555,720.9 580,720.2 605,719 630.6,717.6"/>
<polyline points="292.5,685.5 247.5,837.5 246.8,840 244.6,845.2 246.1,851.1 243.8,853.7 245.5,857.6 249.4,860.9 252,865.5 254.6,868.1 256.6,866.1 258.6,870.1 259.9,875.9 262.5,881.8 262.9,887.7 264.4,891 266.4,889.7 269,892.9 267.7,896.2 270.3,899.5 274.2,901.4 276.9,906.7 278.6,912.5 280.1,914.8 283,914.2 284.7,919.7 287.3,926.9 291.2,933.5 295.2,939.3 294.8,941.3 298.4,947.8 299.7,950.8 303,953.1 305.6,958.3 306,965.5 305.2,973.3 302.6,977.9 305,981.2 304.7,985.1 306.9,989.7 310.2,993.6 310.6,996.2"/>
<polyline points="423.75,713 382.5,1008"/>
<polyline points="533.5,720.9 531.8,765 530.2,815 530,865 531.2,915 533.2,965 535.6,1019.5"/>
<polyline points="723.75,795 680.7,860 659.3,890.4 640.4,912.9 646.2,1017"/>
<polyline points="907.1,921.8 912,942.9 930,1010 936.2,1020 945,1030 957.5,1036.2 972.5,1035.5 987.5,1040 996.2,1045.5 1007.5,1043.8 1015,1040 1022.5,1034.5 1030,1031.2 1033.8,1035 1036.2,1040 1035,1046.2"/>
<polyline points="1010,607 1013.8,618.8 1018.8,622.5 1025,632.5 1032.5,633.8 1038.8,640 1041.2,651.2 1048.8,656.2 1054.5,658.8 1060,666.2 1062,678.8 1067.5,692 1072.5,697 1080,700 1088.8,707 1092.5,710 1093,721.2 1095,730 1071.2,742.5 1067.5,741.2 1050,738 1053.8,745.5 1043.8,747 1049.5,755 1046.2,760 1050,773 1060,777.5 1070,785 1076.2,801.2 1079.5,800.5 1082.5,792.5 1092,809.5 1097.5,810 1103.8,803.8 1118,803.8 1121.2,808.8 1125,808.8 1122.5,793.8 1113.8,777.5 1117.5,769.5 1123,776.2 1118.8,782.5 1120,786.2 1130,794.5 1216.2,742.5 1223,752"/>
<polyline points="1108,948.7 1112.9,940 1110,932.9 1114.3,927.1 1119.3,925 1128.6,920 1136.9,914.3"/>
<polyline points="1198.3,940.9 1194.9,950.9"/>
</g>
<g class="ld">
<line x1="1214.5" y1="925" x2="1281" y2="911"/>
<line x1="1223.75" y1="958" x2="1238.75" y2="980.5"/>
<line x1="1153" y1="962.5" x2="1138" y2="1006"/>
</g>
<g class="title" font-size="45"><text y="81.5"><tspan x="50.19" textLength="79.28" lengthAdjust="spacingAndGlyphs">Jobs</tspan> <tspan x="140.0" textLength="89.99" lengthAdjust="spacingAndGlyphs">That</tspan> <tspan x="242.0" textLength="148.03" lengthAdjust="spacingAndGlyphs">Depend</tspan> <tspan x="401.98" textLength="48.55" lengthAdjust="spacingAndGlyphs">on</tspan> <tspan x="461.0" textLength="114.48" lengthAdjust="spacingAndGlyphs">Trade</tspan> <tspan x="585.5" textLength="162.53" lengthAdjust="spacingAndGlyphs">Between</tspan> <tspan x="758.0" textLength="141.48" lengthAdjust="spacingAndGlyphs">Alberta</tspan> <tspan x="909.35" textLength="30.87" lengthAdjust="spacingAndGlyphs">&amp;</tspan> <tspan x="950.5" textLength="79.49" lengthAdjust="spacingAndGlyphs">Rest</tspan> <tspan x="1041.89" textLength="41.48" lengthAdjust="spacingAndGlyphs">of</tspan> <tspan x="1088.04" textLength="157.68" lengthAdjust="spacingAndGlyphs">Canada,</tspan> <tspan x="1254.02" textLength="88.46" lengthAdjust="spacingAndGlyphs">2022</tspan></text></g>
<text x="750.5" y="293.6" font-size="29.6" font-weight="bold" fill="#b8292c" textLength="189.5" lengthAdjust="spacing">TOTAL: 749k</text>
<g class="lab">
<text x="153.4" y="798.3" fill="#fff" stroke="#fff" textLength="73.2" lengthAdjust="spacingAndGlyphs">118k</text>
<text x="294.4" y="832.8" fill="#fff" stroke="#fff" textLength="72.8" lengthAdjust="spacingAndGlyphs">303k</text>
<text x="444.5" y="854.3" fill="#0c2a78" stroke="#0c2a78" textLength="54" lengthAdjust="spacingAndGlyphs">25k</text>
<text x="573" y="861.8" fill="#0c2a78" stroke="#0c2a78" textLength="54" lengthAdjust="spacingAndGlyphs">20k</text>
<text x="736.4" y="944.6" fill="#fff" stroke="#fff" textLength="73.2" lengthAdjust="spacingAndGlyphs">214k</text>
<text x="963" y="869" fill="#fff" stroke="#fff" textLength="54" lengthAdjust="spacingAndGlyphs">59k</text>
<text x="1108.5" y="750.5" fill="#0c2a78" stroke="#0c2a78" textLength="63" lengthAdjust="spacingAndGlyphs">2.1k</text>
<text x="1286.8" y="919.5" fill="#0b1738" stroke="#0b1738" textLength="63.3" lengthAdjust="spacingAndGlyphs">0.3k</text>
<text x="1243.4" y="993.7" fill="#0b1738" stroke="#0b1738" textLength="34.2" lengthAdjust="spacingAndGlyphs">4k</text>
<text x="1097.5" y="1038.7" fill="#0b1738" stroke="#0b1738" textLength="63" lengthAdjust="spacingAndGlyphs">3.8k</text>
</g>
<g class="src"><text y="1226.3"><tspan x="33.92" textLength="90.49" lengthAdjust="spacingAndGlyphs">Source:</tspan> <tspan x="130.95" textLength="52.7" lengthAdjust="spacingAndGlyphs">Own</tspan> <tspan x="190.15" textLength="140.57" lengthAdjust="spacingAndGlyphs">calculations</tspan> <tspan x="341.25" textLength="53.96" lengthAdjust="spacingAndGlyphs">from</tspan> <tspan x="401.9" textLength="107.82" lengthAdjust="spacingAndGlyphs">Statistics</tspan> <tspan x="519.0" textLength="85.57" lengthAdjust="spacingAndGlyphs">Canada</tspan> <tspan x="613.96" textLength="49.34" lengthAdjust="spacingAndGlyphs">data</tspan> <tspan x="673.75" textLength="70.21" lengthAdjust="spacingAndGlyphs">tables</tspan> <tspan x="753.33" textLength="153.75" lengthAdjust="spacingAndGlyphs">14-10-0023,</tspan> <tspan x="915.0" textLength="153.35" lengthAdjust="spacingAndGlyphs">36-10-0113,</tspan> <tspan x="1073.92" textLength="44.02" lengthAdjust="spacingAndGlyphs">and</tspan> <tspan x="1126.25" textLength="36.86" lengthAdjust="spacingAndGlyphs">the</tspan> <tspan x="1170.12" textLength="115.97" lengthAdjust="spacingAndGlyphs">provincial</tspan></text>
<text y="1256.8"><tspan x="35.0" textLength="122.21" lengthAdjust="spacingAndGlyphs">symmetric</tspan> <tspan x="165.86" textLength="146.38" lengthAdjust="spacingAndGlyphs">input-output</tspan> <tspan x="323.0" textLength="80.23" lengthAdjust="spacingAndGlyphs">tables.</tspan></text></g>
</svg>
</body></html>
